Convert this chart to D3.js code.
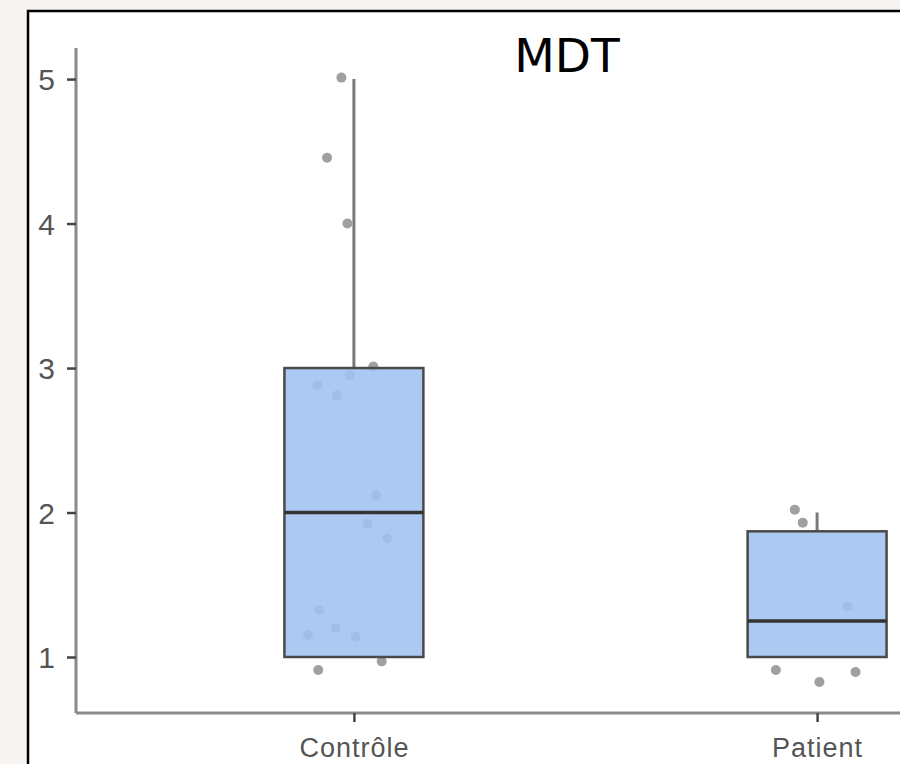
<!DOCTYPE html>
<html>
<head>
<meta charset="utf-8">
<script src="https://cdn.jsdelivr.net/npm/d3@7"></script>
<style>
  html, body { margin: 0; padding: 0; background: #f8f4f1; }
  svg { display: block; }
</style>
</head>
<body>
<svg id="chart" width="900" height="764"></svg>
<script>
// ---- data ----
const categories = ["Contrôle", "Patient"];
const q1 = [1, 1];
const medians = [2, 1.25];
const q3 = [3, 1.87];
const whiskerLow = [1, 1];
const whiskerHigh = [5, 2];
const yTicks = [1, 2, 3, 4, 5];
const title = "MDT";

// jittered points: group index, jitter offset (category units), value
const pointGroup = [0,0,0,0,0,0,0,0,0,0,0,0,0,0,0,0, 1,1,1,1,1,1];
const pointJitter = [-0.027,-0.058,-0.014,0.042,-0.009,-0.079,-0.037,0.048,0.029,0.072,-0.075,-0.039,-0.099,0.004,0.060,-0.077,
                     -0.048,-0.031,0.066,-0.089,0.005,0.083];
const pointValue = [5.01,4.455,4.0,3.01,2.95,2.88,2.81,2.12,1.92,1.82,1.325,1.2,1.15,1.14,0.97,0.91,
                    2.02,1.93,1.35,0.91,0.827,0.896];

// ---- layout ----
const mLeft = 76, mTop = 48, mBottom = 713, mRight = 1095;
const svg = d3.select("#chart");

// panel
svg.append("rect").attr("x", 28).attr("y", 11).attr("width", 1000).attr("height", 1000)
  .attr("fill", "#ffffff").attr("stroke", "#000").attr("stroke-width", 2.5);

const x = d3.scaleLinear().domain([-0.6, categories.length - 1 + 0.6]).range([mLeft, mRight]);
const y = d3.scaleLinear().domain([0.6125, 5.215]).range([mBottom, mTop]);
const boxW = 0.3;

const font = "'Liberation Sans', Arial, sans-serif";

// points (drawn first, box fill overlays them)
const pts = pointValue.map((v, i) => ({g: pointGroup[i], j: pointJitter[i], v}));
svg.append("g").selectAll("circle").data(pts).enter().append("circle")
  .attr("cx", d => x(d.g + d.j)).attr("cy", d => y(d.v)).attr("r", 5)
  .attr("fill", "#a0a0a0");

// boxes
const groups = categories.map((c, i) => ({i, q1: q1[i], med: medians[i], q3: q3[i], lo: whiskerLow[i], hi: whiskerHigh[i]}));
const gb = svg.append("g");
groups.forEach(d => {
  gb.append("line").attr("x1", x(d.i)).attr("x2", x(d.i)).attr("y1", y(d.q3)).attr("y2", y(d.hi))
    .attr("stroke", "#7a7a7a").attr("stroke-width", 3);
  gb.append("line").attr("x1", x(d.i)).attr("x2", x(d.i)).attr("y1", y(d.q1)).attr("y2", y(d.lo))
    .attr("stroke", "#7a7a7a").attr("stroke-width", 3);
  gb.append("rect").attr("x", x(d.i - boxW / 2)).attr("y", y(d.q3))
    .attr("width", x(d.i + boxW / 2) - x(d.i - boxW / 2)).attr("height", y(d.q1) - y(d.q3))
    .attr("fill", "rgb(160,193,239)").attr("fill-opacity", 0.88)
    .attr("stroke", "#4a4a4a").attr("stroke-width", 2.5);
  gb.append("line").attr("x1", x(d.i - boxW / 2)).attr("x2", x(d.i + boxW / 2))
    .attr("y1", y(d.med)).attr("y2", y(d.med))
    .attr("stroke", "#333333").attr("stroke-width", 3.5);
});

// y axis
const yAxis = svg.append("g").attr("transform", `translate(${mLeft},0)`)
  .call(d3.axisLeft(y).tickValues(yTicks).tickSize(9).tickPadding(12).tickFormat(d3.format("d")));
yAxis.select(".domain").attr("stroke", "#8a8a8a").attr("stroke-width", 3)
  .attr("d", `M0,${mTop}V${mBottom}`);
yAxis.selectAll(".tick line").attr("stroke", "#444").attr("stroke-width", 2.5);
yAxis.selectAll(".tick text").attr("fill", "#555").style("font-family", font).style("font-size", "30px")
  .attr("dy", "0.36em");

// x axis
const xAxis = svg.append("g").attr("transform", `translate(0,${mBottom})`)
  .call(d3.axisBottom(x).tickValues(categories.map((c, i) => i)).tickSize(9).tickPadding(16)
    .tickFormat(i => categories[i]));
xAxis.select(".domain").attr("stroke", "#8a8a8a").attr("stroke-width", 3)
  .attr("d", `M${mLeft},0H${mRight}`);
xAxis.selectAll(".tick line").attr("stroke", "#444").attr("stroke-width", 2.5);
xAxis.selectAll(".tick text").attr("fill", "#555").style("font-family", font).style("font-size", "27px")
  .style("letter-spacing", "1px");

// title
svg.append("text").attr("x", 567).attr("y", 72).attr("text-anchor", "middle")
  .style("font-family", "'DejaVu Sans', Verdana, sans-serif").style("font-size", "47px")
  .attr("fill", "#000").text(title);
</script>
</body>
</html>
